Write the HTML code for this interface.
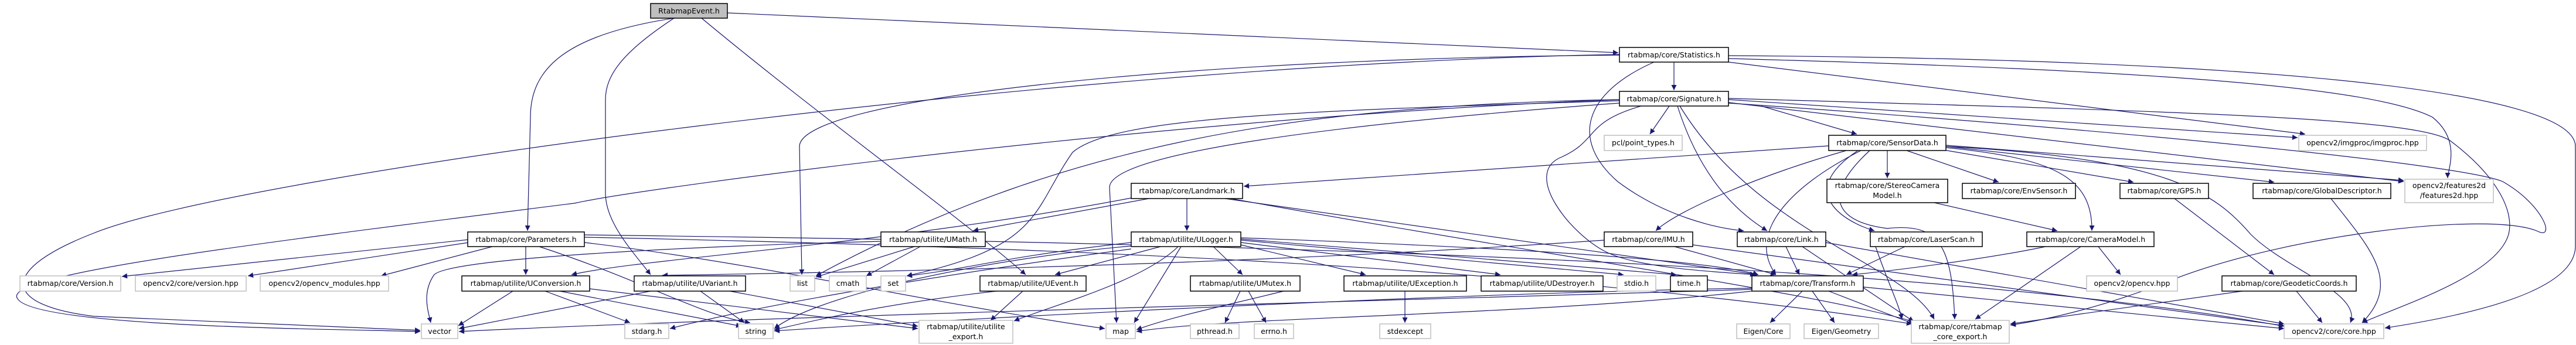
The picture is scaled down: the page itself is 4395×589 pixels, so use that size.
<!DOCTYPE html>
<html><head><meta charset="utf-8"><style>
html,body{margin:0;padding:0;background:#fff}
svg{display:block}
text{font-family:"DejaVu Sans","Liberation Sans",sans-serif;font-size:12.5px;fill:#000}
.e{fill:none;stroke:#191970;stroke-width:1.2}
.b{fill:#fff;stroke:#000;stroke-width:1.5}
.g{fill:#fff;stroke:#bfbfbf;stroke-width:1.5}
</style></head><body>
<svg width="4395" height="589" viewBox="0 0 4395 589" xmlns="http://www.w3.org/2000/svg">
<defs><marker id="a" viewBox="0 0 10 10" refX="10" refY="5" markerWidth="10" markerHeight="9" markerUnits="userSpaceOnUse" orient="auto"><path d="M0,0 L10,5 L0,10 z" fill="#191970"/></marker></defs>
<g marker-end="url(#a)">
<!-- RtabmapEvent -->
<path class="e" d="M1150,31 C960,60 905,120 905,200 L900,394"/>
<path class="e" d="M1150,31 C1060,90 1033,130 1033,170 L1033,330 C1033,380 1080,430 1110,469"/>
<path class="e" d="M1197,31 C1400,200 1650,380 1750,469"/>
<path class="e" d="M1241,22 L2761,90"/>
<!-- Statistics -->
<path class="e" d="M2856,106 L2856,154"/>
<path class="e" d="M2763,94 C2000,100 1364,170 1364,250 L1368,469"/>
<path class="e" d="M2763,93 C1800,110 400,300 160,398 C0,460 0,520 160,540 L717,564"/>
<path class="e" d="M2949,95 C3800,100 4394,150 4394,250 L4394,420 C4394,500 4200,540 4069,560"/>
<path class="e" d="M2949,100 C3700,120 4050,150 4150,200 C4200,240 4176,290 4176,304"/>
<path class="e" d="M2949,106 L3933,229"/>
<path class="e" d="M2822,106 C2700,160 2680,240 2760,310 C2840,370 2930,390 2975,394"/>
<!-- Signature -->
<path class="e" d="M2848,181 L2815,229"/>
<path class="e" d="M3005,181 L3168,229"/>
<path class="e" d="M2862,181 C2900,300 2960,360 3015,394"/>
<path class="e" d="M2866,181 C3000,400 3250,450 3300,545"/>
<path class="e" d="M2800,181 C2700,210 2730,240 2660,270 C2600,300 2680,400 2740,430 C2800,460 2950,465 2995,469"/>
<path class="e" d="M2763,176 C2300,210 1893,260 1893,320 L1905,551"/>
<path class="e" d="M2763,172 C2200,190 1900,200 1830,260 C1760,360 1780,420 1547,471"/>
<path class="e" d="M2763,170 C2200,180 1800,250 1392,471"/>
<path class="e" d="M2763,170 C2000,200 1100,320 980,347 C400,420 0,470 30,510 C60,560 600,562 717,566"/>
<path class="e" d="M2949,170 L3920,235"/>
<path class="e" d="M2949,175 L4101,310"/>
<path class="e" d="M2949,176 C3600,220 4200,280 4270,310 C4340,350 4360,410 4330,395 C4250,360 3900,400 3700,480 C3600,520 3500,545 3430,555"/>
<path class="e" d="M2949,168 C3700,190 4120,200 4180,240 C4260,300 4290,360 4280,400 C4260,470 4100,520 4030,551"/>
<!-- SensorData -->
<path class="e" d="M3120,249 L2122,318"/>
<path class="e" d="M3220,257 L3220,304"/>
<path class="e" d="M3253,257 L3410,311"/>
<path class="e" d="M3310,255 L3640,311"/>
<path class="e" d="M3320,250 L3880,311"/>
<path class="e" d="M3320,248 L4101,308"/>
<path class="e" d="M3320,252 C3500,270 3570,300 3569,394"/>
<path class="e" d="M3320,250 C3700,270 3780,330 3840,400 C3900,460 4030,500 4010,551"/>
<path class="e" d="M3150,257 C3000,300 2860,360 2825,394"/>
<path class="e" d="M3170,257 C3060,330 3150,380 3198,394"/>
<path class="e" d="M3175,257 C3050,320 2980,400 3030,469"/>
<path class="e" d="M3190,257 C3100,340 3140,380 3220,390 C3310,380 3330,420 3335,545"/>
<path class="e" d="M3300,346 L3510,394"/>
<!-- Landmark -->
<path class="e" d="M2025,339 L2025,394"/>
<path class="e" d="M1960,339 L1660,394"/>
<path class="e" d="M1930,338 C1500,420 1100,440 975,469"/>
<path class="e" d="M2090,339 L3000,469"/>
<path class="e" d="M2100,339 C2600,430 3100,500 3268,550"/>
<!-- UMath -->
<path class="e" d="M1560,421 L1392,473"/>
<path class="e" d="M1570,421 L1478,471"/>
<path class="e" d="M1503,412 C1200,420 760,440 740,470 C720,500 730,530 735,551"/>
<!-- ULogger -->
<path class="e" d="M1980,421 L1800,469"/>
<path class="e" d="M2070,421 L2120,469"/>
<path class="e" d="M2015,421 L1935,551"/>
<path class="e" d="M2010,421 C1950,480 1800,520 1730,548"/>
<path class="e" d="M1930,420 C1700,440 1400,500 1321,561"/>
<path class="e" d="M1930,414 C1700,440 1650,460 1547,471"/>
<path class="e" d="M2117,418 L2330,469"/>
<path class="e" d="M2117,414 L2560,469"/>
<path class="e" d="M2117,410 L2770,469"/>
<path class="e" d="M2117,408 L2860,469"/>
<path class="e" d="M2117,406 C2500,420 2900,440 3000,469"/>
<path class="e" d="M1930,425 C1600,470 1300,520 1143,561"/>
<!-- UEvent -->
<path class="e" d="M1700,497 C1500,520 1400,545 1321,563"/>
<path class="e" d="M1745,497 L1690,547"/>
<!-- UMutex -->
<path class="e" d="M2116,497 L2090,551"/>
<path class="e" d="M2130,497 L2160,551"/>
<path class="e" d="M2218,490 C2100,520 2000,540 1939,563"/>
<!-- Transform -->
<path class="e" d="M2989,492 C2500,500 1700,540 1321,565"/>
<path class="e" d="M2989,494 C2500,510 1300,540 783,566"/>
<path class="e" d="M3075,497 L3020,551"/>
<path class="e" d="M3092,497 L3130,551"/>
<path class="e" d="M3120,497 L3265,553"/>
<path class="e" d="M3179,490 L3897,561"/>
<path class="e" d="M2989,497 C2600,540 2100,540 1939,566"/>
<!-- UException -->
<path class="e" d="M2397,497 L2397,551"/>
<!-- IMU, Link, Laser, Cam -->
<path class="e" d="M2857,421 L3030,469"/>
<path class="e" d="M2888,418 L3897,556"/>
<path class="e" d="M2737,410 C2300,440 1800,460 1130,470"/>
<path class="e" d="M3047,421 L3070,469"/>
<path class="e" d="M3075,421 L3265,549"/>
<path class="e" d="M3115,414 L3897,553"/>
<path class="e" d="M3250,421 L3150,469"/>
<path class="e" d="M3200,421 C3220,480 3240,520 3245,545"/>
<path class="e" d="M3490,421 C3400,440 3250,460 3160,469"/>
<path class="e" d="M3550,421 L3370,545"/>
<path class="e" d="M3580,421 L3618,469"/>
<!-- GPS GD Geo -->
<path class="e" d="M3710,339 L3880,469"/>
<path class="e" d="M3977,339 C4040,420 4100,480 4030,551"/>
<path class="e" d="M3826,497 L3430,553"/>
<path class="e" d="M3918,497 L3962,551"/>
<!-- Parameters -->
<path class="e" d="M800,409 L208,472"/>
<path class="e" d="M800,414 L423,471"/>
<path class="e" d="M840,421 L650,471"/>
<path class="e" d="M897,421 L897,469"/>
<path class="e" d="M920,421 C1100,480 1200,540 1280,551"/>
<path class="e" d="M997,414 C1300,450 1600,520 1885,561"/>
<path class="e" d="M997,405 C1700,420 2600,450 3262,553"/>
<path class="e" d="M997,401 C1700,410 3200,430 3897,557"/>
<!-- UConversion -->
<path class="e" d="M875,497 L782,556"/>
<path class="e" d="M930,497 L1075,551"/>
<path class="e" d="M955,497 L1265,557"/>
<path class="e" d="M1006,493 L1566,561"/>
<!-- UVariant -->
<path class="e" d="M1110,497 L783,561"/>
<path class="e" d="M1195,497 L1270,551"/>
<path class="e" d="M1245,497 L1566,557"/>
</g>
<!-- nodes -->
<rect x="1110" y="6" width="131" height="25" fill="#bfbfbf" stroke="#000" stroke-width="1.5"/><text x="1175.5" y="23" text-anchor="middle">RtabmapEvent.h</text>
<g>
<rect class="b" x="2763" y="81" width="186" height="25"/><text x="2856" y="98" text-anchor="middle">rtabmap/core/Statistics.h</text>
<rect class="b" x="2763" y="156" width="186" height="25"/><text x="2856" y="173" text-anchor="middle">rtabmap/core/Signature.h</text>
<rect class="g" x="2737" y="231" width="133" height="26"/><text x="2803.5" y="248" text-anchor="middle">pcl/point_types.h</text>
<rect class="b" x="3120" y="231" width="200" height="26"/><text x="3220" y="248" text-anchor="middle">rtabmap/core/SensorData.h</text>
<rect class="g" x="3922" y="231" width="218" height="26"/><text x="4031" y="248" text-anchor="middle">opencv2/imgproc/imgproc.hpp</text>
<rect class="b" x="1930" y="313" width="190" height="26"/><text x="2025" y="330" text-anchor="middle">rtabmap/core/Landmark.h</text>
<rect class="b" x="3117" y="306" width="206" height="40"/><text x="3220" y="321" text-anchor="middle">rtabmap/core/StereoCamera</text><text x="3220" y="338" text-anchor="middle">Model.h</text>
<rect class="b" x="3348" y="313" width="193" height="26"/><text x="3444.5" y="330" text-anchor="middle">rtabmap/core/EnvSensor.h</text>
<rect class="b" x="3617" y="313" width="151" height="26"/><text x="3692.5" y="330" text-anchor="middle">rtabmap/core/GPS.h</text>
<rect class="b" x="3844" y="313" width="235" height="26"/><text x="3961.5" y="330" text-anchor="middle">rtabmap/core/GlobalDescriptor.h</text>
<rect class="g" x="4103" y="306" width="151" height="40"/><text x="4178.5" y="321" text-anchor="middle">opencv2/features2d</text><text x="4178.5" y="338" text-anchor="middle">/features2d.hpp</text>
<rect class="b" x="798" y="396" width="199" height="25"/><text x="897.5" y="413" text-anchor="middle">rtabmap/core/Parameters.h</text>
<rect class="b" x="1503" y="396" width="178" height="25"/><text x="1592" y="413" text-anchor="middle">rtabmap/utilite/UMath.h</text>
<rect class="b" x="1930" y="396" width="187" height="25"/><text x="2023.5" y="413" text-anchor="middle">rtabmap/utilite/ULogger.h</text>
<rect class="b" x="2737" y="396" width="151" height="25"/><text x="2812.5" y="413" text-anchor="middle">rtabmap/core/IMU.h</text>
<rect class="b" x="2964" y="396" width="151" height="25"/><text x="3039.5" y="413" text-anchor="middle">rtabmap/core/Link.h</text>
<rect class="b" x="3191" y="396" width="191" height="25"/><text x="3286.5" y="413" text-anchor="middle">rtabmap/core/LaserScan.h</text>
<rect class="b" x="3458" y="396" width="217" height="25"/><text x="3566.5" y="413" text-anchor="middle">rtabmap/core/CameraModel.h</text>
<rect class="g" x="34" y="471" width="172" height="26"/><text x="120" y="488" text-anchor="middle">rtabmap/core/Version.h</text>
<rect class="g" x="231" y="471" width="189" height="26"/><text x="325.5" y="488" text-anchor="middle">opencv2/core/version.hpp</text>
<rect class="g" x="444" y="471" width="219" height="26"/><text x="553.5" y="488" text-anchor="middle">opencv2/opencv_modules.hpp</text>
<rect class="b" x="788" y="471" width="218" height="26"/><text x="897" y="488" text-anchor="middle">rtabmap/utilite/UConversion.h</text>
<rect class="b" x="1082" y="471" width="190" height="26"/><text x="1177" y="488" text-anchor="middle">rtabmap/utilite/UVariant.h</text>
<rect class="g" x="1348" y="471" width="42" height="26"/><text x="1369" y="488" text-anchor="middle">list</text>
<rect class="g" x="1415" y="471" width="63" height="26"/><text x="1446.5" y="488" text-anchor="middle">cmath</text>
<rect class="g" x="1503" y="471" width="42" height="26"/><text x="1524" y="488" text-anchor="middle">set</text>
<rect class="b" x="1672" y="471" width="181" height="26"/><text x="1762.5" y="488" text-anchor="middle">rtabmap/utilite/UEvent.h</text>
<rect class="b" x="2031" y="471" width="187" height="26"/><text x="2124.5" y="488" text-anchor="middle">rtabmap/utilite/UMutex.h</text>
<rect class="b" x="2293" y="471" width="209" height="26"/><text x="2397.5" y="488" text-anchor="middle">rtabmap/utilite/UException.h</text>
<rect class="b" x="2527" y="471" width="208" height="26"/><text x="2631" y="488" text-anchor="middle">rtabmap/utilite/UDestroyer.h</text>
<rect class="g" x="2759" y="471" width="66" height="26"/><text x="2792" y="488" text-anchor="middle">stdio.h</text>
<rect class="b" x="2850" y="471" width="63" height="26"/><text x="2881.5" y="488" text-anchor="middle">time.h</text>
<rect class="b" x="2989" y="471" width="190" height="26"/><text x="3084" y="488" text-anchor="middle">rtabmap/core/Transform.h</text>
<rect class="g" x="3560" y="471" width="155" height="26"/><text x="3637.5" y="488" text-anchor="middle">opencv2/opencv.hpp</text>
<rect class="b" x="3791" y="471" width="229" height="26"/><text x="3905.5" y="488" text-anchor="middle">rtabmap/core/GeodeticCoords.h</text>
<rect class="g" x="719" y="553" width="62" height="25"/><text x="750" y="570" text-anchor="middle">vector</text>
<rect class="g" x="1066" y="553" width="75" height="25"/><text x="1103.5" y="570" text-anchor="middle">stdarg.h</text>
<rect class="g" x="1260" y="553" width="59" height="25"/><text x="1289.5" y="570" text-anchor="middle">string</text>
<rect class="g" x="1568" y="547" width="160" height="39"/><text x="1648" y="562" text-anchor="middle">rtabmap/utilite/utilite</text><text x="1648" y="579" text-anchor="middle">_export.h</text>
<rect class="g" x="1887" y="553" width="50" height="25"/><text x="1912" y="570" text-anchor="middle">map</text>
<rect class="g" x="2031" y="553" width="83" height="25"/><text x="2072.5" y="570" text-anchor="middle">pthread.h</text>
<rect class="g" x="2140" y="553" width="67" height="25"/><text x="2173.5" y="570" text-anchor="middle">errno.h</text>
<rect class="g" x="2354" y="553" width="87" height="25"/><text x="2397.5" y="570" text-anchor="middle">stdexcept</text>
<rect class="g" x="2963" y="553" width="91" height="25"/><text x="3008.5" y="570" text-anchor="middle">Eigen/Core</text>
<rect class="g" x="3078" y="553" width="127" height="25"/><text x="3141.5" y="570" text-anchor="middle">Eigen/Geometry</text>
<rect class="g" x="3261" y="547" width="167" height="39"/><text x="3344.5" y="562" text-anchor="middle">rtabmap/core/rtabmap</text><text x="3344.5" y="579" text-anchor="middle">_core_export.h</text>
<rect class="g" x="3897" y="553" width="170" height="25"/><text x="3982" y="570" text-anchor="middle">opencv2/core/core.hpp</text>
</g>
</svg>
</body></html>
